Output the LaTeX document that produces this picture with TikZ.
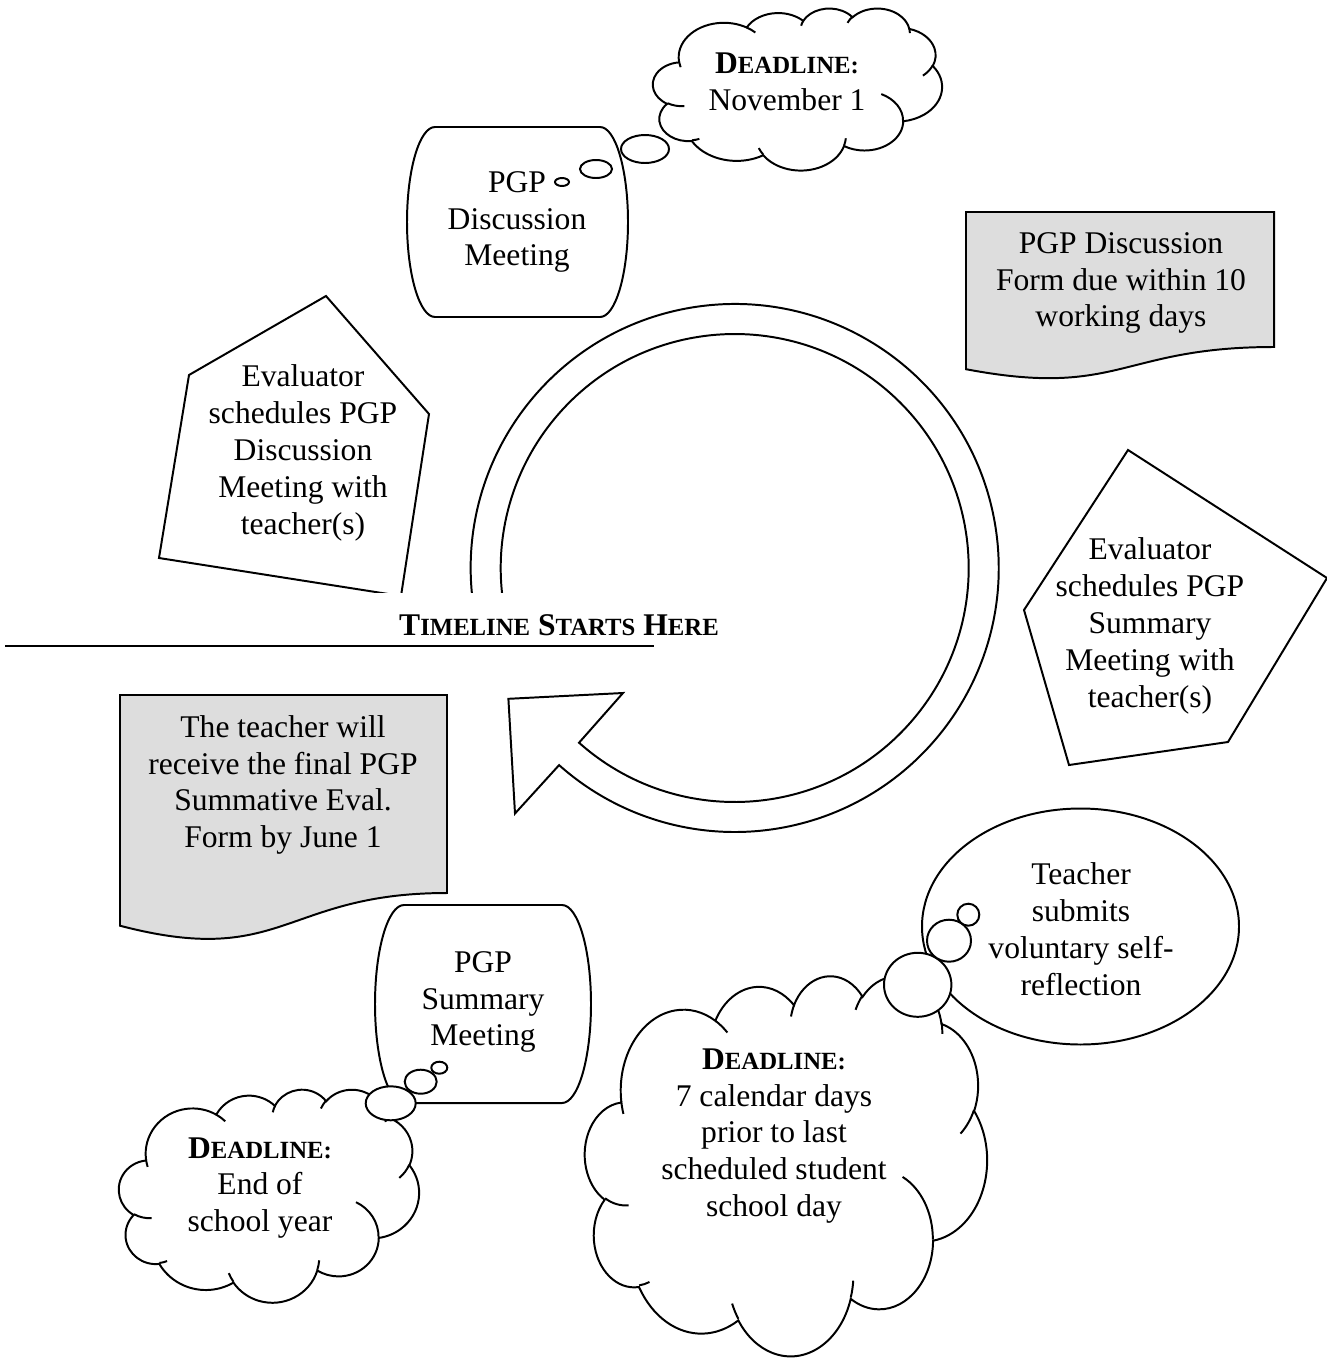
\documentclass[tikz,border=0pt]{standalone}
\usepackage{fontspec}
\setmainfont{Liberation Serif}
\usetikzlibrary{calc}
\definecolor{formgray}{RGB}{221,221,221}
\tikzset{shapeline/.style={draw=black, line width=0.75pt, fill=white},
  formbox/.style={draw=black, line width=0.75pt, fill=formgray},
  hookline/.style={draw=black, line width=0.75pt},
  txt/.style={align=center, inner sep=0pt, font=\fontsize{12}{14}\selectfont}}
\newcommand{\smc}[1]{{\fontsize{9.4}{14}\selectfont #1}}
% one puff of the cloud: x radius, y radius, start angle, sweep
\newcommand{\cloudarc}[4]{\pgfextra{%
    \pgfmathparse{atan2((#1)*sin(#3),(#2)*cos(#3))}\global\let\cldA\pgfmathresult
    \pgfmathparse{atan2((#1)*sin((#3)+(#4)),(#2)*cos((#3)+(#4)))}\global\let\cldB\pgfmathresult
    \pgfmathparse{mod(\cldB-(\cldA)+720,360)}\global\let\cldD\pgfmathresult}%
  arc[start angle=\cldA, delta angle=\cldD, x radius=#1, y radius=#2]}
\newcommand{\cloudbody}{(9.028,33.264)
  \cloudarc{15.632}{21.273}{-190.4875}{123.7805}
  \cloudarc{12.345}{16.822}{-144.1024}{89.9452}
  \cloudarc{10.104}{13.762}{-145.8079}{99.7230}
  \cloudarc{11.243}{15.266}{-130.9861}{117.2417}
  \cloudarc{12.345}{16.836}{-78.7089}{109.0269}
  \cloudarc{15.683}{21.343}{-46.2673}{130.2690}
  \cloudarc{13.391}{18.211}{0.6250}{114.0333}
  \cloudarc{15.630}{21.331}{22.4516}{115.1726}
  \cloudarc{17.870}{24.405}{66.2426}{75.7110}
  \cloudarc{10.093}{13.699}{-274.9421}{146.7356}
  \cloudarc{10.058}{13.762}{-246.8285}{152.5189} -- cycle}
\newcommand{\cloudhooks}{(10.863,60.595) \cloudarc{10.058}{13.762}{86.742}{26.4295}
  (16.037,80.785) \cloudarc{10.093}{13.699}{73.6105}{11.4475}
  (38.144,90.486) \cloudarc{15.630}{21.331}{137.6242}{14.0811}
  (66.729,80.442) \cloudarc{15.630}{21.331}{6.4533}{15.9984}
  (79.002,53.134) \cloudarc{13.391}{18.211}{-70.2924}{70.9174}
  (96.755,35.542) \cloudarc{12.345}{16.836}{30.3180}{27.7515}
  (88.713,12.560) \cloudarc{11.243}{15.266}{-13.7443}{14.8589}
  (67.310,9.148) \cloudarc{11.243}{15.266}{-149.1815}{18.1954}
  (51.252,10.926) \cloudarc{10.104}{13.762}{-163.4943}{17.6864}
  (32.407,12.019) \cloudarc{15.632}{21.273}{-66.7070}{12.3194}
  (9.553,36.549) \cloudarc{15.632}{21.273}{157.6544}{11.8582}}

\begin{document}
\begin{tikzpicture}[x=0.38pt, y=-0.38pt]
\useasboundingbox (0,0) rectangle (1327,1358);
% november deadline
\begin{scope}[shift={(653,8)}, xscale=2.89, yscale=1.62]
\draw[shapeline] \cloudbody;
\draw[hookline] \cloudhooks;
\end{scope}
\node[txt] (dlnov) at (787,82) {{\bfseries D\smc{EADLINE:}}\\November 1};
% discussion meeting
\draw[shapeline] (435,127) -- (600,127) arc[start angle=-90, end angle=90, x radius=28, y radius=95]
  -- (435,317) arc[start angle=90, end angle=270, x radius=28, y radius=95] -- cycle;
\node[txt] (pgpdisc) at (517,222) {PGP\\Discussion\\Meeting};
% discussion form
\draw[formbox] (966,212) -- (1274,212) -- (1274,347) .. controls (1120,347) and (1120,398.4) .. (966,369.2) -- cycle;
\node[txt] (discform) at (1121,283) {PGP Discussion\\Form due within 10\\working days};
% schedule discussion
\draw[shapeline] (326,296) -- (429,414) -- (401,596) -- (159,558) -- (189,375) -- cycle;
\node[txt] (scheddisc) at (303,453) {Evaluator\\schedules PGP\\Discussion\\Meeting with\\teacher(s)};
% round arrow
\coordinate (hub) at (734.7,568);
\draw[shapeline] ($(hub)+(170:264)$) arc[start angle=170, end angle=491.7, radius=264]
  -- (515,813.5) -- (508.4,698.8) -- (623,693) -- ($(hub)+(131.7:234)$)
  arc[start angle=131.7, end angle=-190, radius=234] -- cycle;
% schedule summary
\draw[shapeline] (1128,450) -- (1327,578) -- (1228,742) -- (1069,765) -- (1024,610) -- cycle;
\node[txt] (schedsum) at (1150,626) {Evaluator\\schedules PGP\\Summary\\Meeting with\\teacher(s)};
% start label
\fill[white] (100,593) rectangle (740,650);
\node[txt, font=\fontsize{12}{14}\selectfont\bfseries] (start) at (559,625) {T\smc{IMELINE} S\smc{TARTS} H\smc{ERE}};
\draw[line width=1pt] (5,646) -- (654,646);
% final form
\draw[formbox] (120,695) -- (447,695) -- (447,893) .. controls (283.5,893) and (283.5,968.6) .. (120,925.7) -- cycle;
\node[txt] (finalform) at (283,785) {The teacher will\\receive the final PGP\\Summative Eval.\\Form by June 1};
% summary meeting
\draw[shapeline] (404,905) -- (562,905) arc[start angle=-90, end angle=90, x radius=29, y radius=99]
  -- (404,1103) arc[start angle=90, end angle=270, x radius=29, y radius=99] -- cycle;
\node[txt] (pgpsum) at (483,1002) {PGP\\Summary\\Meeting};
% self-reflection
\draw[shapeline] (1080.5,926.5) ellipse[x radius=158.5, y radius=118];
\node[txt] (selfref) at (1081,929) {Teacher\\submits\\voluntary self-\\reflection};
% end of year deadline
\begin{scope}[shift={(119,1089)}, xscale=3.0, yscale=2.13]
\draw[shapeline] \cloudbody;
\draw[hookline] \cloudhooks;
\end{scope}
\node[txt] (dlyear) at (260,1188) {{\bfseries D\smc{EADLINE:}}\\End of\\school year};
% last day deadline
\begin{scope}[shift={(585,975)}, xscale=4.02, yscale=3.80]
\draw[shapeline] \cloudbody;
\draw[hookline] \cloudhooks;
\end{scope}
\node[txt] (dldays) at (774,1136) {{\bfseries D\smc{EADLINE:}}\\7 calendar days\\prior to last\\scheduled student\\school day};
% thought bubbles
\draw[shapeline] (645,149) ellipse[x radius=24, y radius=14];
\draw[shapeline] (596,169) ellipse[x radius=16, y radius=9];
\draw[shapeline] (562,182) ellipse[x radius=7, y radius=4];
\draw[shapeline] (390.7,1103.3) ellipse[x radius=25, y radius=17];
\draw[shapeline] (420.7,1081.7) ellipse[x radius=16, y radius=12];
\draw[shapeline] (439.3,1067.7) ellipse[x radius=8, y radius=6];
\draw[shapeline] (917.7,984.8) ellipse[x radius=33.7, y radius=32];
\draw[shapeline] (949,940.7) ellipse[x radius=22, y radius=21];
\draw[shapeline] (968.3,914.7) ellipse[x radius=11, y radius=11];
\end{tikzpicture}
\end{document}
